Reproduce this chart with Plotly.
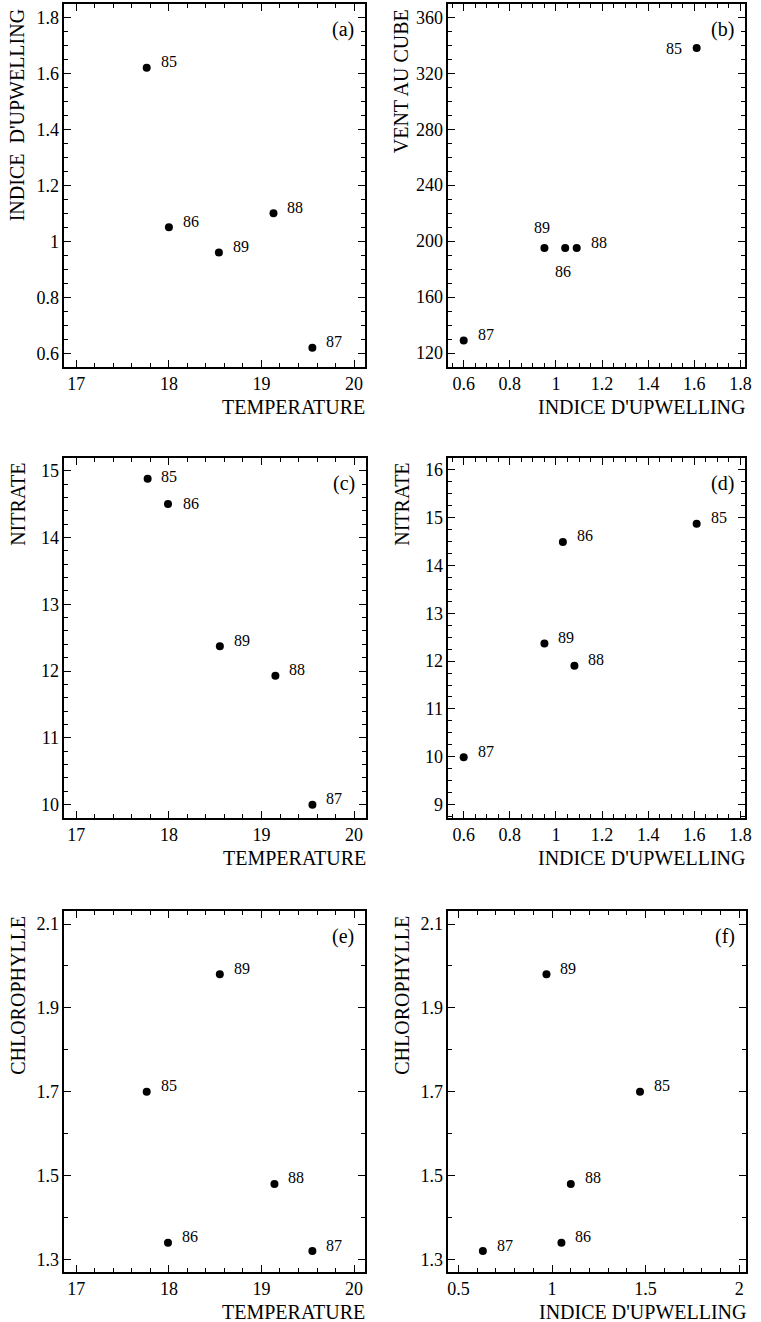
import plotly.graph_objects as go

# ---------------- data ----------------
years = ["85", "86", "87", "88", "89"]

# (a) temperature vs upwelling index
temp_a = [17.76, 18.00, 19.55, 19.13, 18.54]
upw_a = [1.62, 1.05, 0.62, 1.10, 0.96]

# (b) upwelling index vs cubed wind
upw_b = [1.61, 1.04, 0.60, 1.09, 0.95]
wind_b = [338, 195, 129, 195, 195]

# (c) temperature vs nitrate
temp_c = [17.77, 17.99, 19.55, 19.15, 18.55]
nitrate_c = [14.88, 14.50, 10.00, 11.93, 12.37]

# (d) upwelling index vs nitrate
upw_d = [1.61, 1.03, 0.60, 1.08, 0.95]
nitrate_d = [14.87, 14.49, 9.99, 11.90, 12.37]

# (e) temperature vs chlorophyll
temp_e = [17.76, 17.99, 19.55, 19.14, 18.55]
chl_e = [1.70, 1.34, 1.32, 1.48, 1.98]

# (f) upwelling index vs chlorophyll
upw_f = [1.47, 1.05, 0.63, 1.10, 0.97]
chl_f = [1.70, 1.34, 1.32, 1.48, 1.98]

# tick labels
temp_ticks = ["17", "18", "19", "20"]
upw_ticks_a = ["0.6", "0.8", "1", "1.2", "1.4", "1.6", "1.8"]
upw_ticks_bd = ["0.6", "0.8", "1", "1.2", "1.4", "1.6", "1.8"]
upw_ticks_f = ["0.5", "1", "1.5", "2"]
wind_ticks = ["120", "160", "200", "240", "280", "320", "360"]
nitrate_ticks_c = ["10", "11", "12", "13", "14", "15"]
nitrate_ticks_d = ["9", "10", "11", "12", "13", "14", "15", "16"]
chl_ticks = ["1.3", "1.5", "1.7", "1.9", "2.1"]

# ---------------- layout / style ----------------
W, H = 761, 1322
FONT = "Liberation Serif"

panels = [
    dict(key="a", x=temp_a, y=upw_a, xt=temp_ticks, yt=upw_ticks_a,
         xr=[16.87, 20.12], yr=[0.551, 1.848], xminor=0.2, yminor=0.05,
         box=(64, 368, 4, 367), xtitle="TEMPERATURE",
         ytitle="INDICE\u00a0\u00a0D'UPWELLING"),
    dict(key="b", x=upw_b, y=wind_b, xt=upw_ticks_bd, yt=wind_ticks,
         xr=[0.533, 1.82], yr=[110, 369.5], xminor=0.05, yminor=10,
         box=(452, 752, 4, 367), xtitle="INDICE D'UPWELLING",
         ytitle="VENT AU CUBE"),
    dict(key="c", x=temp_c, y=nitrate_c, xt=temp_ticks, yt=nitrate_ticks_c,
         xr=[16.87, 20.13], yr=[9.80, 15.19], xminor=0.2, yminor=0.2,
         box=(64, 369, 458, 818), xtitle="TEMPERATURE", ytitle="NITRATE"),
    dict(key="d", x=upw_d, y=nitrate_d, xt=upw_ticks_bd, yt=nitrate_ticks_d,
         xr=[0.533, 1.82], yr=[8.72, 16.245], xminor=0.05, yminor=0.25,
         box=(452, 752, 458, 818), xtitle="INDICE D'UPWELLING",
         ytitle="NITRATE"),
    dict(key="e", x=temp_e, y=chl_e, xt=temp_ticks, yt=chl_ticks,
         xr=[16.87, 20.12], yr=[1.27, 2.131], xminor=0.2, yminor=0.1,
         box=(64, 368, 911, 1272), xtitle="TEMPERATURE",
         ytitle="CHLOROPHYLLE"),
    dict(key="f", x=upw_f, y=chl_f, xt=upw_ticks_f, yt=chl_ticks,
         xr=[0.445, 2.037], yr=[1.27, 2.131], xminor=0.1, yminor=0.1,
         box=(452, 753, 911, 1272), xtitle="INDICE D'UPWELLING",
         ytitle="CHLOROPHYLLE"),
]

# label placement overrides (xshift, yshift, xanchor) per panel/year
default_lab = (12, 6, "left")
lab_override = {
    ("b", "85"): (-13, 0, "right"),
    ("b", "89"): (-2, 21, "center"),
    ("b", "86"): (-2, -23, "center"),
    ("c", "85"): (11, 2, "left"),
    ("c", "86"): (13, 1, "left"),
}

fig = go.Figure()
annotations = []
layout = dict(
    width=W, height=H,
    margin=dict(l=0, r=0, t=0, b=0),
    paper_bgcolor="white", plot_bgcolor="white",
    showlegend=False,
    font=dict(family=FONT, color="black", size=17),
)

for i, p in enumerate(panels):
    n = "" if i == 0 else str(i + 1)
    xa, ya = "x" + n, "y" + n
    x0, x1, y0, y1 = p["box"]
    fig.add_trace(go.Scatter(
        x=p["x"], y=p["y"], mode="markers", xaxis=xa, yaxis=ya,
        marker=dict(size=8, color="black"), hoverinfo="skip"))
    xvals = [float(t) for t in p["xt"]]
    yvals = [float(t) for t in p["yt"]]
    common = dict(showline=True, linecolor="black", linewidth=1.5,
                  mirror="ticks", ticks="inside", ticklen=7, tickwidth=1.3,
                  tickcolor="black", showgrid=False, zeroline=False,
                  tickfont=dict(family=FONT, size=18, color="black"),
                  tickmode="array")
    layout["xaxis" + n] = dict(
        common, domain=[x0 / W, x1 / W], range=p["xr"], anchor=ya,
        tickvals=xvals, ticktext=p["xt"],
        minor=dict(tickmode="linear", dtick=p["xminor"], tick0=0,
                   ticks="inside", ticklen=4, tickwidth=1.2,
                   tickcolor="black", showgrid=False))
    layout["yaxis" + n] = dict(
        common, domain=[1 - y1 / H, 1 - y0 / H], range=p["yr"], anchor=xa,
        tickvals=yvals, ticktext=p["yt"],
        minor=dict(tickmode="linear", dtick=p["yminor"], tick0=0,
                   ticks="inside", ticklen=4, tickwidth=1.2,
                   tickcolor="black", showgrid=False))

    # point labels
    for xv, yv, yr in zip(p["x"], p["y"], years):
        dx, dy, anc = lab_override.get((p["key"], yr), default_lab)
        annotations.append(dict(
            x=xv, y=yv, xref=xa, yref=ya, text=yr, showarrow=False,
            xanchor=anc, yanchor="middle", xshift=dx, yshift=dy,
            font=dict(family=FONT, size=16, color="black")))
    # panel letter
    annotations.append(dict(
        x=1, y=1, xref=xa + " domain", yref=ya + " domain",
        text="(" + p["key"] + ")", showarrow=False, xanchor="right",
        yanchor="middle", xshift=-9, yshift=-25,
        font=dict(family=FONT, size=20, color="black")))
    # x title (right aligned under axis)
    annotations.append(dict(
        x=1, y=0, xref=xa + " domain", yref=ya + " domain",
        text=p["xtitle"], showarrow=False, xanchor="right",
        yanchor="middle", yshift=-40, xshift=2,
        font=dict(family=FONT, size=20, color="black")))
    # y title (rotated, top aligned)
    annotations.append(dict(
        x=0, y=1, xref=xa + " domain", yref=ya + " domain",
        text=p["ytitle"], showarrow=False, textangle=-90,
        xanchor="center", yanchor="top", xshift=-47, yshift=-3,
        font=dict(family=FONT, size=20, color="black")))

layout["annotations"] = annotations
fig.update_layout(**layout)
fig.write_html("out.html")
